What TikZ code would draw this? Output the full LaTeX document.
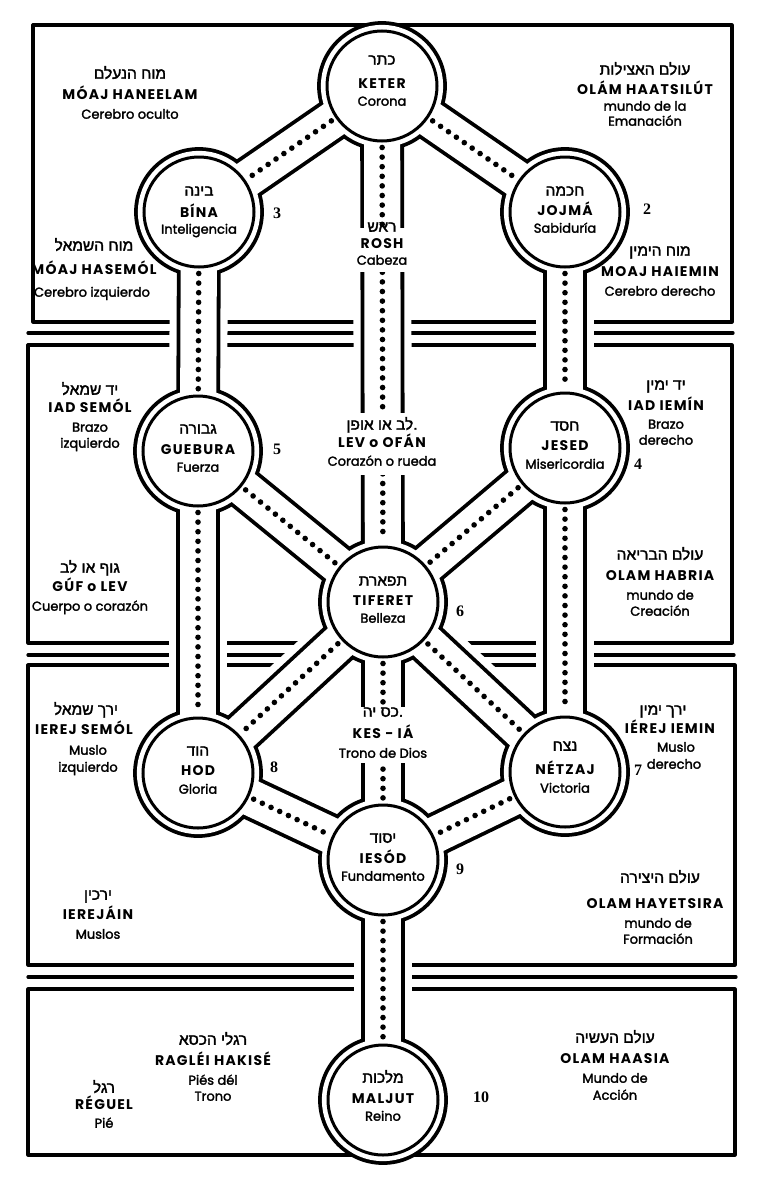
\documentclass[tikz,border=0pt]{standalone}
\usepackage{fontspec}
\setmainfont{Poppins}
\newfontfamily\capfont[LetterSpace=9]{Poppins}
\newfontfamily\lowfont[FakeBold=2]{Poppins}
\newfontfamily\hebfont[Script=Hebrew,FakeBold=2]{Liberation Sans}
\newfontfamily\numfont{Liberation Serif}
\TeXXeTstate=1
\newcommand\hw[1]{\beginR #1\endR}
\newcommand\tx[5]{\node[#2] (#1) at (#3,#4) {#5};}
\begin{document}
\begin{tikzpicture}[x=1pt,y=-1pt,
  boxline/.style={line width=3.2pt, line cap=round, line join=round},
  erasebd/.style={white, line width=58pt},
  tubeout/.style={black, line width=43.8pt},
  tubein/.style={white, line width=36.2pt},
  sefring/.style={circle, draw, line width=3pt, minimum size=110pt, inner sep=0pt},
  dotline/.style={line width=5.6pt, line cap=round, dash pattern=on 0pt off 9.6pt, shorten <=5pt, shorten >=5pt},
  hebtxt/.style={font=\hebfont\fontsize{15.5}{17}\selectfont, anchor=mid, inner sep=0pt},
  captxt/.style={font=\capfont\bfseries\fontsize{14}{16}\selectfont, anchor=mid, inner sep=0pt},
  lowtxt/.style={font=\lowfont\fontsize{13}{15}\selectfont, anchor=mid, inner sep=0pt},
  numtxt/.style={font=\numfont\bfseries\fontsize{16}{18}\selectfont, anchor=mid, inner sep=0pt},
  whitepatch/.style={fill=white, inner sep=0pt}
]
\path[use as bounding box, fill=white] (0,0) rectangle (763,1183);

% centres of the sefirot
\coordinate (cK) at (382,86);
\coordinate (cB) at (199,212);
\coordinate (cJ) at (565,212);
\coordinate (cG) at (198,451);
\coordinate (cE) at (565,448);
\coordinate (cT) at (383,602);
\coordinate (cH) at (198,773);
\coordinate (cN) at (565,772);
\coordinate (cY) at (383,860);
\coordinate (cM) at (383,1100);

% world boxes and separators
\draw[boxline] (33,25) rectangle (732,322);
\draw[boxline] (28,345) rectangle (732,643);
\draw[boxline] (28,665) rectangle (735,965);
\draw[boxline] (28,989) rectangle (735,1155);
\draw[boxline] (28,333) -- (733,333);
\draw[boxline] (28,655) -- (734,655);
\draw[boxline] (28,977) -- (736,977);

\def\chans{K/B,K/J,K/T,B/G,J/E,G/T,E/T,G/H,E/N,T/H,T/N,T/Y,H/Y,N/Y,Y/M}
% gaps in the box lines
\foreach \a/\b in \chans {\draw[erasebd] (c\a) -- (c\b);}
% tubes: outline of union of channels and outer circles
\foreach \a/\b in \chans {\draw[tubeout] (c\a) -- (c\b);}
\foreach \n in {K,B,J,G,E,T,H,N,Y,M} {\fill[black] (c\n) circle (64.9);}
\foreach \a/\b in \chans {\draw[tubein] (c\a) -- (c\b);}
\foreach \n in {K,B,J,G,E,T,H,N,Y,M} {\fill[white] (c\n) circle (61.1);}
% inner rings
\foreach \n in {K,B,J,G,E,T,H,N,Y,M} {\node[sefring] (\n) at (c\n) {};}
% dotted paths
\foreach \a/\b in \chans {\draw[dotline] (\a) -- (\b);}
% interruptions of the central channel behind labels
\node[whitepatch, minimum width=62pt, minimum height=44pt] (roshpatch) at (382,250) {};
\node[whitepatch, minimum width=62pt, minimum height=62pt] (levpatch) at (382,444) {};
\node[whitepatch, minimum width=62pt, minimum height=56pt] (kespatch) at (383,735) {};

% ---- sefirot labels
\tx{kh}{hebtxt}{382}{62}{\hw{כתר}}
\tx{kc}{captxt}{382}{86}{KETER}
\tx{kl}{lowtxt}{382}{103}{Corona}
\tx{bh}{hebtxt}{199}{193}{\hw{בינה}}
\tx{bc}{captxt}{199}{215}{BÍNA}
\tx{bl}{lowtxt}{199}{231}{Inteligencia}
\tx{jh}{hebtxt}{565}{193}{\hw{חכמה}}
\tx{jc}{captxt}{565}{213}{JOJMÁ}
\tx{jl}{lowtxt}{565}{230}{Sabiduría}
\tx{gh}{hebtxt}{198}{431}{\hw{גבורה}}
\tx{gc}{captxt}{198}{452}{GUEBURA}
\tx{gl}{lowtxt}{198}{469}{Fuerza}
\tx{eh}{hebtxt}{565}{428}{\hw{חסד}}
\tx{ec}{captxt}{565}{448}{JESED}
\tx{el}{lowtxt}{565}{466}{Misericordia}
\tx{th}{hebtxt}{383}{583}{\hw{תפארת}}
\tx{tc}{captxt}{383}{603}{TIFERET}
\tx{tl}{lowtxt}{383}{620}{Belleza}
\tx{hh}{hebtxt}{198}{753}{\hw{הוד}}
\tx{hc}{captxt}{198}{773}{HOD}
\tx{hl}{lowtxt}{198}{791}{Gloria}
\tx{nh}{hebtxt}{565}{748}{\hw{נצח}}
\tx{nc}{captxt}{565}{772}{NÉTZAJ}
\tx{nl}{lowtxt}{565}{790}{Victoria}
\tx{yh}{hebtxt}{383}{840}{\hw{יסוד}}
\tx{yc}{captxt}{383}{861}{IESÓD}
\tx{yl}{lowtxt}{383}{878}{Fundamento}
\tx{mh}{hebtxt}{383}{1080}{\hw{מלכות}}
\tx{mc}{captxt}{383}{1101}{MALJUT}
\tx{ml}{lowtxt}{383}{1118}{Reino}

% ---- numbers
\tx{n3}{numtxt}{277}{216}{3}
\tx{n2}{numtxt}{647}{212}{2}
\tx{n5}{numtxt}{277}{452}{5}
\tx{n4}{numtxt}{638}{467}{4}
\tx{n6}{numtxt}{460}{614}{6}
\tx{n8}{numtxt}{274}{770}{8}
\tx{n7}{numtxt}{638}{773}{7}
\tx{n9}{numtxt}{460}{872}{9}
\tx{n10}{numtxt}{481}{1100}{10}

% ---- world of emanation
\tx{a1}{hebtxt}{130}{76}{\hw{הנעלם} \hw{מוח}}
\tx{a2}{captxt}{130}{97}{MÓAJ HANEELAM}
\tx{a3}{lowtxt}{130}{116}{Cerebro oculto}
\tx{b1}{hebtxt}{645}{72}{\hw{האצילות} \hw{עולם}}
\tx{b2}{captxt}{645}{92}{OLÁM HAATSILÚT}
\tx{b3}{lowtxt}{645}{108}{mundo de la}
\tx{b4}{lowtxt}{645}{123}{Emanación}
\tx{c1}{hebtxt}{94}{248}{\hw{השמאל} \hw{מוח}}
\tx{c2}{captxt}{94}{272}{MÓAJ HASEMÓL}
\tx{c3}{lowtxt}{92}{294}{Cerebro izquierdo}
\tx{d1}{hebtxt}{660}{253}{\hw{הימין} \hw{מוח}}
\tx{d2}{captxt}{660}{274}{MOAJ HAIEMIN}
\tx{d3}{lowtxt}{660}{293}{Cerebro derecho}
\tx{r1}{hebtxt}{382}{229}{\hw{ראש}}
\tx{r2}{captxt}{382}{246}{ROSH}
\tx{r3}{lowtxt}{382}{262}{Cabeza}

% ---- world of creation
\tx{e1}{hebtxt}{90}{392}{\hw{שמאל} \hw{יד}}
\tx{e2}{captxt}{90}{410}{IAD SEMÓL}
\tx{e3}{lowtxt}{90}{429}{Brazo}
\tx{e4}{lowtxt}{90}{445}{izquierdo}
\tx{f1}{hebtxt}{666}{387}{\hw{ימין} \hw{יד}}
\tx{f2}{captxt}{666}{408}{IAD IEMÍN}
\tx{f3}{lowtxt}{666}{426}{Brazo}
\tx{f4}{lowtxt}{666}{442}{derecho}
\tx{l1}{hebtxt}{382}{427}{\hw{אופן} \hw{או} \hw{לב}.}
\tx{l2}{captxt}{382}{445}{LEV o OFÁN}
\tx{l3}{lowtxt}{382}{463}{Corazón o rueda}
\tx{g1}{hebtxt}{90}{570}{\hw{לב} \hw{או} \hw{גוף}}
\tx{g2}{captxt}{90}{589}{GÚF o LEV}
\tx{g3}{lowtxt}{90}{608}{Cuerpo o corazón}
\tx{i1}{hebtxt}{660}{557}{\hw{הבריאה} \hw{עולם}}
\tx{i2}{captxt}{660}{578}{OLAM HABRIA}
\tx{i3}{lowtxt}{660}{597}{mundo de}
\tx{i4}{lowtxt}{660}{613}{Creación}

% ---- world of formation
\tx{p1}{hebtxt}{86}{712}{\hw{שמאל} \hw{ירך}}
\tx{p2}{captxt}{84}{732}{IEREJ SEMÓL}
\tx{p3}{lowtxt}{88}{752}{Muslo}
\tx{p4}{lowtxt}{88}{769}{izquierdo}
\tx{q1}{hebtxt}{663}{712}{\hw{ימין} \hw{ירך}}
\tx{q2}{captxt}{670}{731}{IÉREJ IEMIN}
\tx{q3}{lowtxt}{676}{749}{Muslo}
\tx{q4}{lowtxt}{674}{766}{derecho}
\tx{s1}{hebtxt}{383}{714}{\hw{יה} \hw{כס}.}
\tx{s2}{captxt}{383}{736}{KES - IÁ}
\tx{s3}{lowtxt}{383}{755}{Trono de Dios}
\tx{u1}{hebtxt}{98}{897}{\hw{ירכין}}
\tx{u2}{captxt}{98}{917}{IEREJÁIN}
\tx{u3}{lowtxt}{98}{936}{Muslos}
\tx{v1}{hebtxt}{660}{880}{\hw{היצירה} \hw{עולם}}
\tx{v2}{captxt}{655}{906}{OLAM HAYETSIRA}
\tx{v3}{lowtxt}{658}{925}{mundo de}
\tx{v4}{lowtxt}{658}{941}{Formación}

% ---- world of action
\tx{w1}{hebtxt}{213}{1042}{\hw{הכסא} \hw{רגלי}}
\tx{w2}{captxt}{213}{1063}{RAGLÉI HAKISÉ}
\tx{w3}{lowtxt}{213}{1082}{Piés dél}
\tx{w4}{lowtxt}{213}{1098}{Trono}
\tx{x1}{hebtxt}{104}{1090}{\hw{רגל}}
\tx{x2}{captxt}{104}{1107}{RÉGUEL}
\tx{x3}{lowtxt}{104}{1125}{Pié}
\tx{z1}{hebtxt}{615}{1040}{\hw{העשיה} \hw{עולם}}
\tx{z2}{captxt}{615}{1061}{OLAM HAASIA}
\tx{z3}{lowtxt}{615}{1080}{Mundo de}
\tx{z4}{lowtxt}{615}{1097}{Acción}
\end{tikzpicture}
\end{document}
